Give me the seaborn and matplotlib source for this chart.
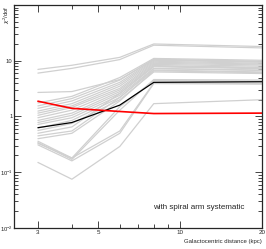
import matplotlib
matplotlib.use('Agg')
import matplotlib.pyplot as plt
import matplotlib.ticker as mticker
import seaborn as sns
import pandas as pd

# galactocentric radii (kpc) where chi2/dof is evaluated
radius = [3, 4, 6, 8, 20]

# individual rotation-curve fits (grey)
grey_curves = [
    [7.0, 8.3, 11.5, 20.0, 18.0],
    [6.0, 7.3, 10.5, 19.0, 17.0],
    [2.7, 2.8, 4.6, 10.5, 9.6],
    [1.75, 2.3, 5.0, 11.0, 10.2],
    [1.55, 2.1, 4.5, 10.6, 9.8],
    [1.4, 1.9, 4.1, 10.2, 9.4],
    [1.25, 1.7, 3.8, 9.8, 9.0],
    [1.15, 1.55, 3.5, 9.4, 8.7],
    [1.05, 1.45, 3.2, 9.0, 8.4],
    [0.95, 1.3, 3.0, 8.6, 8.0],
    [0.85, 1.15, 2.8, 8.2, 7.6],
    [0.78, 1.05, 2.6, 7.8, 7.2],
    [0.72, 0.95, 2.4, 7.3, 6.8],
    [0.62, 0.85, 2.2, 6.8, 6.3],
    [0.56, 0.75, 2.0, 6.3, 5.9],
    [0.5, 0.65, 2.6, 8.0, 7.4],
    [0.45, 0.55, 2.2, 7.2, 6.7],
    [0.4, 0.5, 1.9, 6.6, 6.1],
    [0.36, 0.18, 1.5, 4.4, 4.3],
    [0.34, 0.17, 1.3, 4.6, 4.5],
    [0.33, 0.18, 0.55, 4.0, 3.9],
    [0.31, 0.16, 0.5, 3.9, 3.8],
    [0.15, 0.075, 0.29, 1.7, 2.0],
]

# best fit (black) and fit with spiral arm systematic (red)
best_fit = [0.63, 0.78, 1.6, 4.1, 4.2]
spiral_arm = [1.88, 1.4, 1.23, 1.13, 1.15]

rows = []
for i, c in enumerate(grey_curves):
    for r, v in zip(radius, c):
        rows.append({'curve': i, 'r': r, 'chi2': v})
df = pd.DataFrame(rows)

sns.set_style('ticks')
plt.rcParams['font.family'] = ['Liberation Sans', 'DejaVu Sans']
plt.rcParams['mathtext.fontset'] = 'custom'
plt.rcParams['mathtext.rm'] = 'Liberation Sans'

fig = plt.figure(figsize=(2.66, 2.49), dpi=100)
ax = fig.add_axes([14 / 266, 1 - 228 / 249, 248 / 266, 223 / 249])

sns.lineplot(data=df, x='r', y='chi2', units='curve', estimator=None,
             color='#d0d0d0', lw=0.9, ax=ax)
sns.lineplot(x=radius, y=best_fit, color='black', lw=0.9, ax=ax)
sns.lineplot(x=radius, y=spiral_arm, color='red', lw=1.2, ax=ax)

ax.set_xscale('log')
ax.set_yscale('log')
ax.set_xlim(2.45, 20)
ax.set_ylim(0.01, 100)

ax.xaxis.set_major_locator(mticker.FixedLocator([3, 5, 10, 20]))
ax.xaxis.set_major_formatter(mticker.FixedFormatter(['3', '5', '10', '20']))
ax.xaxis.set_minor_locator(mticker.FixedLocator([4, 6, 7, 8, 9]))
ax.xaxis.set_minor_formatter(mticker.NullFormatter())

ax.yaxis.set_major_locator(mticker.FixedLocator([0.01, 0.1, 1, 10, 100]))
ax.yaxis.set_major_formatter(mticker.FixedFormatter(
    [r'$10^{-2}$', r'$10^{-1}$', '1', '10', '']))
ax.yaxis.set_minor_locator(mticker.LogLocator(base=10, subs=range(2, 10)))
ax.yaxis.set_minor_formatter(mticker.NullFormatter())

ax.tick_params(which='both', direction='in', top=True, right=True,
               labelsize=4.5, width=0.6, pad=1.5)
ax.tick_params(which='major', length=5)
ax.tick_params(which='minor', length=3)
ax.tick_params(axis='y', labelsize=4.2, pad=1)
for s in ax.spines.values():
    s.set_linewidth(0.9)

ax.set_xlabel('')
ax.set_ylabel('')
fig.text(262 / 266, 1 - 241 / 249, 'Galactocentric distance (kpc)',
         ha='right', va='center', fontsize=4.3)
fig.text(7 / 266, 1 - 5 / 249, r'$\chi^2$/dof', rotation=90,
         ha='center', va='top', fontsize=4.3)
ax.text(0.93, 0.094, 'with spiral arm systematic',
        transform=ax.transAxes, ha='right', va='center', fontsize=5.8)

fig.savefig('out.png', dpi=100)
